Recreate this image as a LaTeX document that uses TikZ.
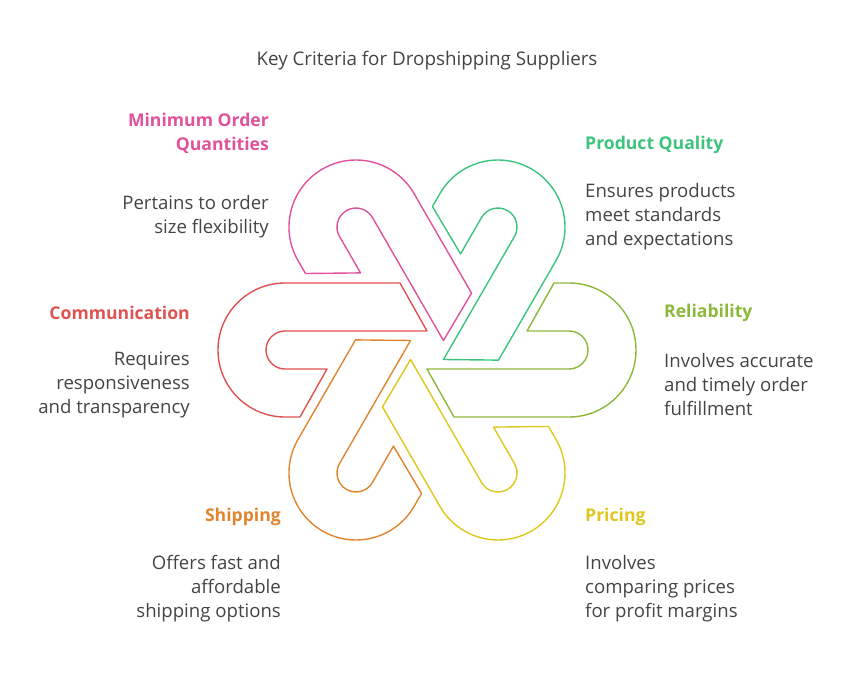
\documentclass[tikz,border=0pt]{standalone}
\usepackage{fontspec}
\setmainfont{Open Sans}
\definecolor{cpink}{HTML}{E0529C}
\definecolor{cred}{HTML}{E05252}
\definecolor{cgreen}{HTML}{3CC47C}
\definecolor{clime}{HTML}{8DB83A}
\definecolor{cyellow}{HTML}{DEC81E}
\definecolor{corange}{HTML}{E0852E}
\definecolor{ctext}{HTML}{444444}
\tikzset{
hook/.style={line width=1.4pt,line join=round},
head/.style={font=\fontsize{17.6}{24}\selectfont\bfseries,align=#1},
body/.style={font=\fontsize{18.6}{24}\selectfont,text=ctext,align=#1},
}
\begin{document}
\begin{tikzpicture}[x=1pt,y=1pt,inner sep=0pt]
\useasboundingbox (0,0) rectangle (855,-674);
\node (title) at (427,-61) [font=\fontsize{18.8}{24}\selectfont,text=ctext] {Key Criteria for Dropshipping Suppliers};
% the hooks
\foreach \rot/\col in {0/cred,-60/cpink,-120/cgreen,180/clime,120/cyellow,60/corange}
{
  \begin{scope}[shift={(427,-350)},rotate=\rot]
    \draw[hook,\col] (-142,67) arc (90:270:67) -- (-127,-67) -- (-100,-19)
      -- (-142,-19) arc (270:90:19) -- (0,19) -- (-27,67) -- cycle;
  \end{scope}
}
% the labels
\node (minhead) [head=right,text=cpink,anchor=east] at (269,-133) {Minimum Order\\Quantities};
\node (minbody) [body=right,anchor=east] at (269,-217) {Pertains to order\\size flexibility};
\node (comhead) [head=right,text=cred,anchor=east] at (190,-313) {Communication};
\node (combody) [body=right,anchor=east] at (190,-385) {Requires\\responsiveness\\and transparency};
\node (shiphead) [head=right,text=corange,anchor=east] at (281,-517) {Shipping};
\node (shipbody) [body=right,anchor=east] at (281,-589) {Offers fast and\\affordable\\shipping options};
\node (qualhead) [head=left,text=cgreen,anchor=west] at (585,-145) {Product Quality};
\node (qualbody) [body=left,anchor=west] at (585,-217) {Ensures products\\meet standards\\and expectations};
\node (relhead) [head=left,text=clime,anchor=west] at (664,-313) {Reliability};
\node (relbody) [body=left,anchor=west] at (664,-385) {Involves accurate\\and timely order\\fulfillment};
\node (pricehead) [head=left,text=cyellow,anchor=west] at (585,-517) {Pricing};
\node (pricebody) [body=left,anchor=west] at (585,-589) {Involves\\comparing prices\\for profit margins};
\end{tikzpicture}
\end{document}
